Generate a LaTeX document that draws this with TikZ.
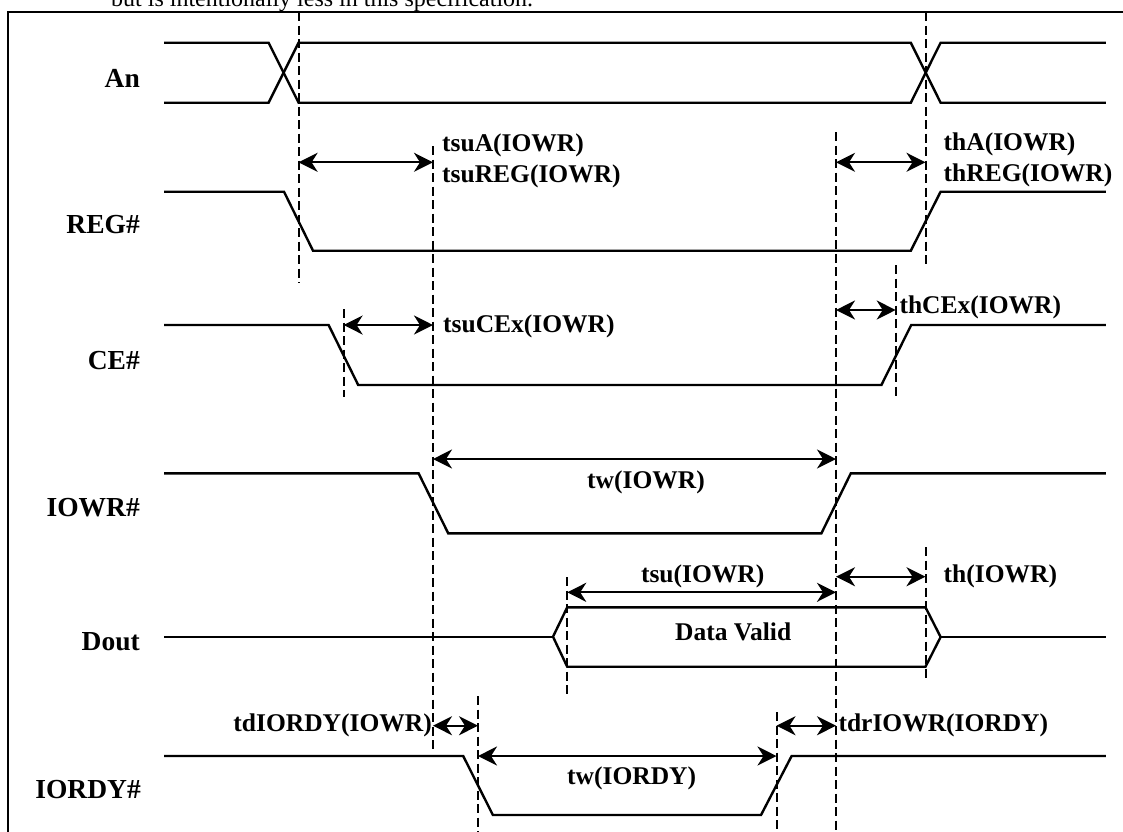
\documentclass[tikz,border=0pt]{standalone}
\usepackage{fontspec}
\setmainfont{Liberation Serif}
\usetikzlibrary{arrows.meta}
\tikzset{
  sig/.style={line width=2.4pt, line join=miter},
  guide/.style={line width=2pt, dash pattern=on 9pt off 4.5pt},
  frameline/.style={line width=2.4pt},
  dim/.style={line width=2.3pt, {Stealth[length=19pt,width=19pt,inset=6pt]}-{Stealth[length=19pt,width=19pt,inset=6pt]}},
  sname/.style={font=\fontsize{27.5}{32}\selectfont\bfseries, anchor=base east, inner sep=0pt},
  tlabel/.style={font=\fontsize{25.5}{30}\selectfont\bfseries, anchor=base west, inner sep=0pt},
  tlabelr/.style={tlabel, anchor=base east},
  note/.style={font=\fontsize{24}{28}\selectfont, anchor=base west, inner sep=0pt},
}
\begin{document}
\begin{tikzpicture}[x=1pt,y=-1pt]
\useasboundingbox (0,0) rectangle (1123,831);
\clip (0,0) rectangle (1123,831);

% frame (left and top sides visible)
\coordinate (fbl) at (8,840);
\coordinate (ftl) at (8,12);
\coordinate (ftr) at (1130,12);
\draw[frameline] (fbl) -- (ftl) -- (ftr);

% text cut off at the top (as in the reference)
\node[note] (topnote) at (111,6.3) {but is intentionally less in this specification.};

% ---------------- signal names
\node[sname] (nAn)   at (140,87)  {An};
\node[sname] (nREG)  at (140,233) {REG\#};
\node[sname] (nCE)   at (140,369) {CE\#};
\node[sname] (nIOWR) at (140,516) {IOWR\#};
\node[sname] (nDout) at (140,650) {Dout};
\node[sname] (nIORDY) at (141,798) {IORDY\#};

% ---------------- waveforms
% An
\draw[sig] (164,42.7) -- (268.6,42.7) -- (298.6,102.7) -- (910.8,102.7) -- (940.6,42.7) -- (1105.8,42.7);
\draw[sig] (164,102.7) -- (268.6,102.7) -- (298.6,42.7) -- (910.8,42.7) -- (940.6,102.7) -- (1105.8,102.7);
% REG#
\draw[sig] (164,191.7) -- (284,191.7) -- (313,250.7) -- (910.8,250.7) -- (940.6,191.7) -- (1105.8,191.7);
% CE#
\draw[sig] (164,325) -- (328.6,325) -- (358.2,385) -- (881.4,385) -- (911.2,325) -- (1105.8,325);
% IOWR#
\draw[sig] (164,473.3) -- (418.6,473.3) -- (448.2,533.3) -- (821.4,533.3) -- (850.8,473.3) -- (1105.8,473.3);
% Dout
\draw[sig] (164,636.7) -- (553,636.7);
\draw[sig] (553,636.7) -- (567.2,607.3) -- (925.5,607.3) -- (940.6,637) -- (925.5,666.7) -- (567.2,666.7) -- cycle;
\draw[sig] (940.6,637) -- (1105.8,637);
% IORDY#
\draw[sig] (164,756) -- (463.2,756) -- (492.9,815) -- (761,815) -- (791.6,756) -- (1105.8,756);

% ---------------- dashed guide lines
\coordinate (d1t) at (298.6,12);  \coordinate (d1b) at (298.6,283);
\coordinate (d2t) at (433,146);   \coordinate (d2b) at (433,753);
\coordinate (d3t) at (836,132);   \coordinate (d3b) at (836,835);
\coordinate (d4t) at (925.5,12);  \coordinate (d4b) at (925.5,267);
\coordinate (d5t) at (895.7,265); \coordinate (d5b) at (895.7,400);
\coordinate (d6t) at (343.6,309); \coordinate (d6b) at (343.6,397);
\coordinate (d7t) at (567.2,577); \coordinate (d7b) at (567.2,697);
\coordinate (d8t) at (925.5,547); \coordinate (d8b) at (925.5,682);
\coordinate (d9t) at (478,696);   \coordinate (d9b) at (478,835);
\coordinate (d10t) at (776.5,712); \coordinate (d10b) at (776.5,835);
\foreach \i in {1,...,10} {\draw[guide] (d\i t) -- (d\i b);}

% ---------------- dimension arrows
\coordinate (a1l) at (298.6,162.3); \coordinate (a1r) at (433,162.3);
\coordinate (a2l) at (836,162.3);   \coordinate (a2r) at (925.5,162.3);
\coordinate (a3l) at (343.6,325);   \coordinate (a3r) at (433,325);
\coordinate (a4l) at (836,310);     \coordinate (a4r) at (895.7,310);
\coordinate (a5l) at (433,459);     \coordinate (a5r) at (836,459);
\coordinate (a6l) at (567.2,592.3); \coordinate (a6r) at (836,592.3);
\coordinate (a7l) at (836,576.7);   \coordinate (a7r) at (925.5,576.7);
\coordinate (a8l) at (433,725.7);   \coordinate (a8r) at (478,725.7);
\coordinate (a9l) at (776.5,725.7); \coordinate (a9r) at (836,725.7);
\coordinate (a10l) at (478,756);    \coordinate (a10r) at (776.5,756);
\foreach \i in {1,...,10} {\draw[dim] (a\i l) -- (a\i r);}

% ---------------- timing labels
\node[tlabel] (ltsuA)   at (442,151.5)   {tsuA(IOWR)};
\node[tlabel] (ltsuREG) at (442,182)     {tsuREG(IOWR)};
\node[tlabel] (lthA)    at (943.5,150.5) {thA(IOWR)};
\node[tlabel] (lthREG)  at (943.5,181.5) {thREG(IOWR)};
\node[tlabel] (ltsuCE)  at (443,332)     {tsuCEx(IOWR)};
\node[tlabel] (lthCE)   at (899.3,313)   {thCEx(IOWR)};
\node[tlabel] (ltwIOWR) at (587,488)     {tw(IOWR)};
\node[tlabel] (ltsu)    at (640.8,582)   {tsu(IOWR)};
\node[tlabel] (lth)     at (943.5,582)   {th(IOWR)};
\node[tlabel] (ldv)     at (675,640.5)   {Data Valid};
\node[tlabelr] (ltd)    at (432,731)     {tdIORDY(IOWR)};
\node[tlabel] (ltdr)    at (838.3,731)   {tdrIOWR(IORDY)};
\node[tlabel] (ltwIORDY) at (567,784)    {tw(IORDY)};
\end{tikzpicture}
\end{document}
